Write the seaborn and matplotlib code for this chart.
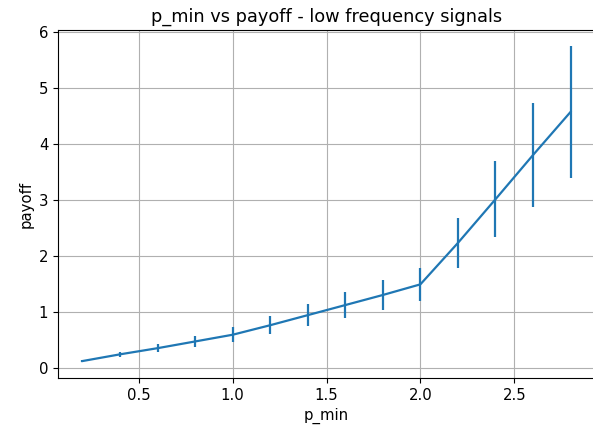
import matplotlib
matplotlib.use("Agg")
import matplotlib.pyplot as plt
import seaborn as sns

p_min = [0.2, 0.4, 0.6, 0.8, 1.0, 1.2, 1.4, 1.6, 1.8, 2.0, 2.2, 2.4, 2.6, 2.8]
payoff = [0.12, 0.24, 0.35, 0.47, 0.59, 0.76, 0.94, 1.12, 1.30, 1.49, 2.23, 3.01, 3.80, 4.57]
payoff_err = [0.02, 0.045, 0.07, 0.10, 0.13, 0.16, 0.20, 0.23, 0.27, 0.30, 0.45, 0.68, 0.93, 1.18]

plt.rcParams["font.size"] = 10.7
plt.rcParams["axes.titlesize"] = 12.8

fig = plt.figure(figsize=(5.93, 4.32), dpi=100)
ax = fig.add_axes([58 / 593, 1 - 378 / 432, 537 / 593, 348 / 432])

sns.lineplot(x=p_min, y=payoff, ax=ax, color="C0", linewidth=1.6)
ax.errorbar(p_min, payoff, yerr=payoff_err, fmt="none", ecolor="C0", elinewidth=1.6)

ax.grid(True)
ax.set_title("p_min vs payoff - low frequency signals")
ax.set_xlabel("p_min")
ax.set_ylabel("payoff")

fig.savefig("out.png", dpi=100)
